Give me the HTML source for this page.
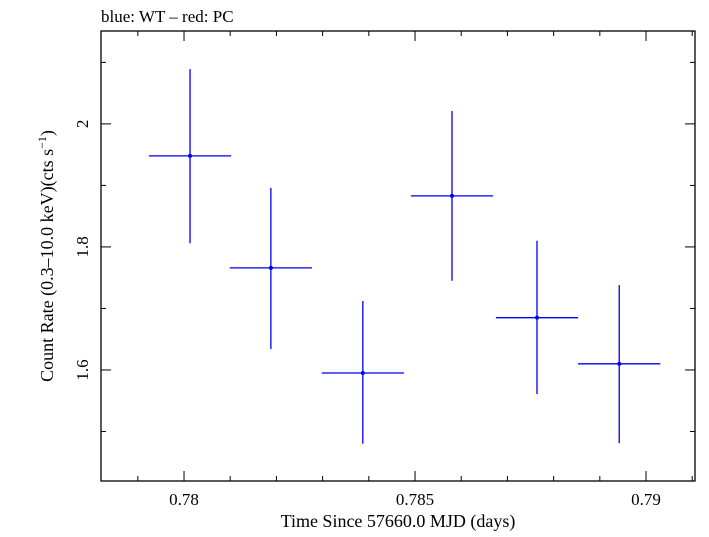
<!DOCTYPE html>
<html><head><meta charset="utf-8"><style>
body{margin:0;background:#fff}
svg text{font-family:"Liberation Serif",serif;fill:#000}
</style></head><body>
<svg id="chart" width="709" height="532" xmlns="http://www.w3.org/2000/svg">
<text x="101" y="22" font-size="17">blue: WT – red: PC</text>
<rect x="101" y="31" width="594" height="450" fill="none" stroke="#000" stroke-width="1.3"/>
<g id="axes"></g><g id="marks"></g>
<text x="398" y="527" font-size="18" text-anchor="middle">Time Since 57660.0 MJD (days)</text>
<text transform="translate(53,256) rotate(-90)" font-size="18" text-anchor="middle">Count Rate (0.3–10.0 keV)(cts s<tspan font-size="12" dy="-7">−1</tspan><tspan dy="7">)</tspan></text>
</svg>
<script>
const times=[0.78013,0.78188,0.78387,0.78580,0.78764,0.78942];
const halfWidths=[0.00089,0.00089,0.00089,0.00089,0.00089,0.00089];
const rates=[1.948,1.766,1.595,1.883,1.685,1.610];
const errUp=[2.089,1.896,1.712,2.021,1.810,1.738];
const errLo=[1.806,1.634,1.480,1.745,1.561,1.481];
const xTicks=[0.78,0.785,0.79];
const yTicks=[1.6,1.8,2.0];
const L=101,R=695,T=31,B=481,x0=0.778203,x1=0.79106,y0=1.4195,y1=2.151;
const X=v=>L+(v-x0)/(x1-x0)*(R-L), Y=v=>B-(v-y0)/(y1-y0)*(B-T);
const NS="http://www.w3.org/2000/svg";
function mk(t,a,p){const e=document.createElementNS(NS,t);for(const k in a)e.setAttribute(k,a[k]);p.appendChild(e);return e;}
const ax=document.getElementById('axes'),mg=document.getElementById('marks');
for(let i=0;i<=13;i++){const v=0.778+i*0.001;if(v<x0||v>x1)continue;const major=xTicks.some(t=>Math.abs(t-v)<1e-7);const len=major?10:5;
 const t1=mk('line',{x1:X(v),x2:X(v),y1:B,y2:B-len,stroke:'#000'},ax);
 
 
 const t2=mk('line',{x1:X(v),x2:X(v),y1:T,y2:T+len,stroke:'#000'},ax);
 
 }
xTicks.forEach(v=>{const t=mk('text',{x:X(v),y:505,'font-size':17,'text-anchor':'middle'},ax);t.textContent=String(v);
 
 });
for(let i=0;i<=7;i++){const v=1.4+i*0.1;if(v<y0||v>y1)continue;const major=yTicks.some(t=>Math.abs(t-v)<1e-7);const len=major?10:5;
 const t1=mk('line',{x1:L,x2:L+len,y1:Y(v),y2:Y(v),stroke:'#000'},ax);
 
 
 const t2=mk('line',{x1:R,x2:R-len,y1:Y(v),y2:Y(v),stroke:'#000'},ax);
 
 }
yTicks.forEach(v=>{const t=mk('text',{transform:`translate(88,${Y(v)}) rotate(-90)`,'font-size':17,'text-anchor':'middle'},ax);t.textContent=v===2?'2':String(v);
 
 });
times.forEach((t,i)=>{const g=mk('g',{},mg);
 
 
 mk('line',{x1:X(t-halfWidths[i]),x2:X(t+halfWidths[i]),y1:Y(rates[i]),y2:Y(rates[i]),stroke:'#0000ee','stroke-width':1.3},g);
 mk('line',{x1:X(t),x2:X(t),y1:Y(errUp[i]),y2:Y(errLo[i]),stroke:'#0000ee','stroke-width':1.3},g);
 mk('circle',{cx:X(t),cy:Y(rates[i]),r:2,fill:'#0000ee'},g);});
</script>
</body></html>
